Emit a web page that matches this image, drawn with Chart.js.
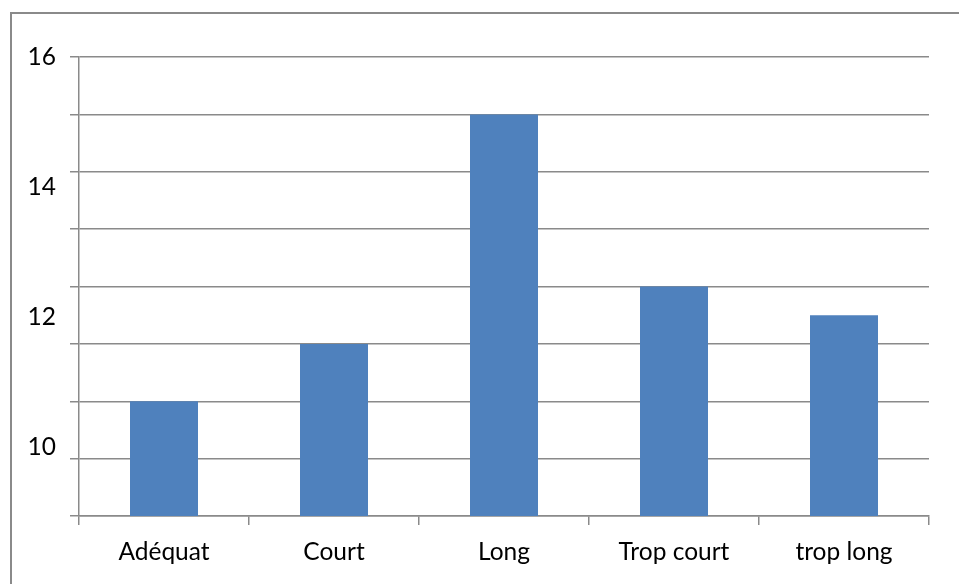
<!DOCTYPE html>
<html>
<head>
<meta charset="utf-8">
<script src="https://cdn.jsdelivr.net/npm/chart.js@4/dist/chart.umd.min.js"></script>
<style>
  html, body { margin: 0; padding: 0; background: #fff; overflow: hidden; }
  #frame { position: absolute; left: 10px; top: 12px; width: 2000px; height: 2000px;
           border: 2px solid #8a8a8a; box-sizing: border-box; }
  #wrap { position: absolute; left: 0; top: 0; width: 959px; height: 584px; }
</style>
</head>
<body>
<div id="frame"></div>
<div id="wrap"><canvas id="c" width="959" height="584"></canvas></div>
<script>
// Catégories et valeurs
const categories = ['Adéquat', 'Court', 'Long', 'Trop court', 'trop long'];
const values = [10, 11, 15, 12, 11.5];
// Repères de l'axe vertical
const gridRange = [8, 16];
const labelTicks = [10, 12, 14, 16];
const labelRange = [8.94, 16];

const GRID = '#8a8a8a';
const FONT = { family: 'Lato, "Open Sans", sans-serif', size: 24.5 };

new Chart(document.getElementById('c'), {
  type: 'bar',
  data: {
    labels: categories,
    datasets: [{
      data: values,
      backgroundColor: '#4F81BD',
      borderWidth: 0,
      categoryPercentage: 1,
      barPercentage: 0.4,
      yAxisID: 'y'
    }]
  },
  options: {
    responsive: false,
    animation: false,
    events: [],
    layout: { padding: { top: 57, right: 30, left: 0, bottom: 0 } },
    plugins: { legend: { display: false }, tooltip: { enabled: false } },
    scales: {
      x: {
        offset: true,
        grid: { display: true, drawOnChartArea: false, offset: true, tickLength: 9, color: GRID, lineWidth: 1.5 },
        border: { display: true, color: GRID, width: 1.5 },
        ticks: { color: '#000', font: FONT, padding: 12, maxRotation: 0, autoSkip: false },
        afterFit: s => { s.height = 68; }
      },
      y: {
        position: 'left',
        weight: 0,
        min: gridRange[0],
        max: gridRange[1],
        ticks: { display: false, stepSize: 1 },
        grid: { color: GRID, lineWidth: 1.5, tickLength: 9, drawTicks: true },
        border: { display: true, color: GRID, width: 1.5 },
        afterFit: s => { s.width = 0; }
      },
      yl: {
        position: 'left',
        weight: 1,
        min: labelRange[0],
        max: labelRange[1],
        grid: { display: false },
        border: { display: false },
        ticks: { color: '#000', font: FONT, padding: 15 },
        afterBuildTicks: s => { s.ticks = labelTicks.map(v => ({ value: v })); },
        afterFit: s => { s.width = 79; }
      }
    }
  }
});
</script>
</body>
</html>
